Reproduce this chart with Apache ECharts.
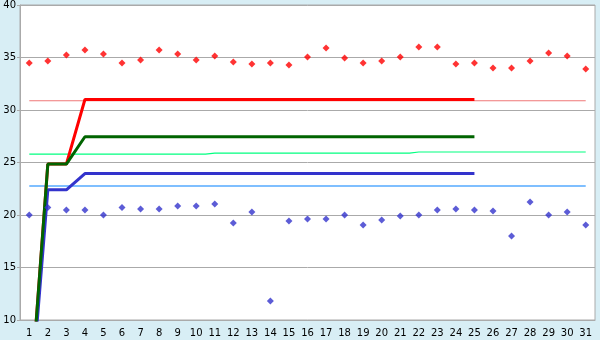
<!DOCTYPE html>
<html>
<head>
<meta charset="utf-8">
<script src="https://cdn.jsdelivr.net/npm/echarts@6/dist/echarts.min.js"></script>
<style>
html,body{margin:0;padding:0;background:#d8eef5;}
#c{width:600px;height:340px;}
</style>
</head>
<body>
<div id="c"></div>
<script>
const days = ['1','2','3','4','5','6','7','8','9','10','11','12','13','14','15','16','17','18','19','20','21','22','23','24','25','26','27','28','29','30','31'];
const yTicks = [10, 15, 20, 25, 30, 35, 40];
const upperPts = [34.48,34.67,35.24,35.71,35.33,34.48,34.76,35.71,35.33,34.76,35.14,34.57,34.38,34.48,34.29,35.05,35.9,34.95,34.48,34.67,35.05,36.0,36.0,34.38,34.48,34.0,34.0,34.67,35.43,35.14,33.9];
const lowerPts = [20.0,20.72,20.48,20.48,20.0,20.72,20.57,20.57,20.86,20.86,21.05,19.24,20.29,11.8,19.43,19.62,19.62,20.0,19.05,19.52,19.9,20.0,20.48,20.57,20.48,20.38,18.0,21.24,20.0,20.29,19.05];
const redLine = [1,24.85,24.85,31.0,31.0,31.0,31.0,31.0,31.0,31.0,31.0,31.0,31.0,31.0,31.0,31.0,31.0,31.0,31.0,31.0,31.0,31.0,31.0,31.0,31.0];
const greenLine = [1,24.85,24.85,27.45,27.45,27.45,27.45,27.45,27.45,27.45,27.45,27.45,27.45,27.45,27.45,27.45,27.45,27.45,27.45,27.45,27.45,27.45,27.45,27.45,27.45];
const blueLine = [0.5,22.4,22.4,23.95,23.95,23.95,23.95,23.95,23.95,23.95,23.95,23.95,23.95,23.95,23.95,23.95,23.95,23.95,23.95,23.95,23.95,23.95,23.95,23.95,23.95];
const redRef = [30.88,30.88,30.88,30.88,30.88,30.88,30.88,30.88,30.88,30.88,30.88,30.88,30.88,30.88,30.88,30.88,30.88,30.88,30.88,30.88,30.88,30.88,30.88,30.88,30.88,30.88,30.88,30.88,30.88,30.88,30.88];
const greenRef = [25.8,25.8,25.8,25.8,25.8,25.8,25.8,25.8,25.8,25.8,25.9,25.9,25.9,25.9,25.9,25.9,25.9,25.9,25.9,25.9,25.9,26.0,26.0,26.0,26.0,26.0,26.0,26.0,26.0,26.0,26.0];
const blueRef = [22.76,22.76,22.76,22.76,22.76,22.76,22.76,22.76,22.76,22.76,22.76,22.76,22.76,22.76,22.76,22.76,22.76,22.76,22.76,22.76,22.76,22.76,22.76,22.76,22.76,22.76,22.76,22.76,22.76,22.76,22.76];

const chart = echarts.init(document.getElementById('c'), null, {renderer:'canvas'});
const font = {fontFamily:'DejaVu Sans', fontSize:10, color:'#000'};
function refLine(data, color, step){
  return {type:'line', data:data, symbol:'none', step: step||false, silent:true, z:2,
    lineStyle:{color:color, width:1.2}};
}
function thickLine(data, color, z){
  return {type:'line', data:data, symbol:'none', silent:true, z:z,
    lineStyle:{color:color, width:3}};
}
chart.setOption({
  animation:false,
  backgroundColor:'#d8eef5',
  grid:{left:20, right:5, top:5, bottom:20, show:true, backgroundColor:'#fff', borderColor:'#aaa', borderWidth:1},
  xAxis:{type:'category', data:days, boundaryGap:true,
    axisLine:{lineStyle:{color:'#aaa'}},
    axisTick:{alignWithLabel:true, length:5, lineStyle:{color:'#000'}},
    axisLabel:Object.assign({margin:8, interval:0}, font),
    splitLine:{show:false}},
  yAxis:{type:'value', min:yTicks[0], max:yTicks[yTicks.length-1], interval:5,
    axisLine:{show:true, lineStyle:{color:'#aaa'}},
    axisTick:{show:true, length:3, lineStyle:{color:'#aaa'}},
    axisLabel:Object.assign({margin:4}, font),
    splitLine:{lineStyle:{color:'#aaa', width:1}}},
  series:[
    refLine(redRef, '#f07878'),
    refLine(greenRef, '#00ff80', 'middle'),
    refLine(blueRef, '#0080ff'),
    thickLine(redLine, '#ff0000', 3),
    thickLine(blueLine, '#3333cc', 4),
    thickLine(greenLine, '#006400', 5),
    {type:'scatter', data:upperPts, symbol:'diamond', symbolSize:7, z:6, itemStyle:{color:'#ff0000'}},
    {type:'scatter', data:lowerPts, symbol:'diamond', symbolSize:7, z:6, itemStyle:{color:'#3333cc'}}
  ]
});
</script>
</body>
</html>
